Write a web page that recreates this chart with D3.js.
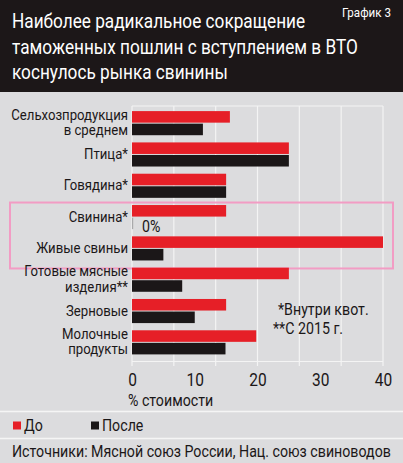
<!DOCTYPE html>
<html>
<head>
<meta charset="utf-8">
<script src="https://cdn.jsdelivr.net/npm/d3@7"></script>
<style>
  html, body { margin: 0; padding: 0; background: #dcdcde; }
  svg { display: block; }
  text { font-family: Roboto, "Noto Sans", sans-serif; fill: #1b1718; }
</style>
</head>
<body>
<div id="canvas"></div>
<script>
// data
var categories = [
    ['Сельхозпродукция', 'в среднем'],
    ['Птица*'],
    ['Говядина*'],
    ['Свинина*'],
    ['Живые свиньи'],
    ['Готовые мясные', 'изделия**'],
    ['Зерновые'],
    ['Молочные', 'продукты']
];
var series = ['До', 'После'];
var before = [15.6, 25, 15, 15, 40, 25, 15, 19.8];
var after = [11.3, 25, 15, 0, 5, 8, 10, 14.9];
var xTicks = [0, 10, 20, 30, 40];
var titleLines = ['Наиболее радикальное сокращение', 'таможенных пошлин с вступлением в ВТО', 'коснулось рынка свинины'];
var notes = ['*Внутри квот.', '**С 2015 г.'];

var W = 403, H = 463;
var K = 0.86; // squeeze text to look like the condensed face
var colors = {'До': '#e61f27', 'После': '#1b1718'};

var svg = d3.select('#canvas').append('svg')
    .attr('width', W).attr('height', H);

function condense(sel){
    sel.each(function(){
        var len = this.getComputedTextLength();
        d3.select(this).attr('textLength', len*K).attr('lengthAdjust', 'spacingAndGlyphs');
    });
}

svg.append('rect').attr('width', W).attr('height', H).attr('fill', '#dcdcde');

// header
svg.append('rect').attr('width', W).attr('height', 92).attr('fill', '#1c1718');
svg.append('g').selectAll('text')
    .data(titleLines).enter().append('text')
    .attr('x', 12)
    .attr('y', function(d, i){ return 28 + i*25.5; })
    .style('font-size', '20px')
    .style('fill', '#fff')
    .text(function(d){ return d; })
    .call(condense);
svg.append('text').attr('x', 342).attr('y', 17)
    .style('font-size', '13.5px').style('fill', '#fff').text('График 3')
    .call(condense);

var names = categories.map(function(d){ return d.join(' '); });

var x = d3.scaleLinear().domain([0, 40]).range([132, 383]);
var y = d3.scaleBand().domain(names).range([107.5, 358])
    .paddingInner(0.23).paddingOuter(0.115);
var ys = d3.scaleBand().domain(series).range([0, y.bandwidth()]).paddingInner(0.08);

// grid (white frame + 6 divisions)
var grid = svg.append('g').attr('class', 'grid');
grid.selectAll('line.v')
    .data(d3.range(0, 40.001, 40/6)).enter().append('line')
    .attr('x1', function(d){ return x(d); }).attr('x2', function(d){ return x(d); })
    .attr('y1', 106).attr('y2', 366)
    .attr('stroke', '#f4f4f4').attr('stroke-width', 1.2);
grid.selectAll('line.h')
    .data([106, 361.5]).enter().append('line')
    .attr('x1', x(0)).attr('x2', x(40))
    .attr('y1', function(d){ return d; }).attr('y2', function(d){ return d; })
    .attr('stroke', '#f4f4f4').attr('stroke-width', 1.2);

// highlight frame around pork
svg.append('rect')
    .attr('x', 10).attr('y', y(names[3]) - 2.5)
    .attr('width', 383).attr('height', y(names[4]) + y.bandwidth() + 8 - (y(names[3]) - 2.5))
    .attr('fill', 'none').attr('stroke', '#f29cc4').attr('stroke-width', 2);

// bars
var rows = names.map(function(n, i){
    return {name: n, vals: [{s: 'До', v: before[i]}, {s: 'После', v: after[i]}]};
});
var groups = svg.selectAll('.group')
    .data(rows).enter().append('g').attr('class', 'group')
    .attr('transform', function(d){ return 'translate(0,' + y(d.name) + ')'; });
groups.selectAll('rect')
    .data(function(d){ return d.vals; }).enter().append('rect')
    .attr('x', x(0))
    .attr('y', function(d){ return ys(d.s); })
    .attr('height', ys.bandwidth())
    .attr('width', function(d){ return Math.max(x(d.v) - x(0), 1.2); })
    .attr('fill', function(d){ return d.v === 0 ? '#a9a9ab' : colors[d.s]; });

// zero value label
rows.forEach(function(r){
    r.vals.forEach(function(d){
        if (d.v === 0) {
            svg.append('text').attr('x', x(0) + 10)
                .attr('y', y(r.name) + ys(d.s) + ys.bandwidth() + 3)
                .style('font-size', '16.5px').text('0%').call(condense);
        }
    });
});

// category labels, one text per line
categories.forEach(function(lines, i){
    var c = y(names[i]) + y.bandwidth()/2;
    lines.forEach(function(l, j){
        var base = lines.length === 1 ? c + 4.5 : c - 3.5 + j*15.5;
        svg.append('text').attr('class', 'cat')
            .attr('x', 128).attr('y', base)
            .attr('text-anchor', 'end')
            .style('font-size', '15.3px')
            .text(l).call(condense);
    });
});

// x axis labels
var xAxis = d3.axisBottom(x).tickValues(xTicks).tickSize(0).tickPadding(0);
var ax = svg.append('g').attr('transform', 'translate(0,373)').call(xAxis);
ax.select('.domain').remove();
ax.selectAll('text').style('font-size', '18px')
    .style('font-family', 'Roboto, "Noto Sans", sans-serif')
    .attr('fill', '#1b1718')
    .call(condense);
svg.append('text').attr('x', 128).attr('y', 406).style('font-size', '16.5px').text('% стоимости')
    .call(condense);

// footnotes
svg.selectAll('.note')
    .data(notes).enter().append('text').attr('class', 'note')
    .attr('x', function(d, i){ return i === 0 ? 278 : 273; })
    .attr('y', function(d, i){ return 315 + i*19; })
    .style('font-size', '16.5px')
    .text(function(d){ return d; })
    .call(condense);

// separators
svg.selectAll('.sep')
    .data([411.5, 438.5]).enter().append('line')
    .attr('x1', 0).attr('x2', W)
    .attr('y1', function(d){ return d; }).attr('y2', function(d){ return d; })
    .attr('stroke', '#f5f5f5').attr('stroke-width', 1.5);

// legend
var leg = svg.selectAll('.leg')
    .data(series).enter().append('g').attr('class', 'leg')
    .attr('transform', function(d, i){ return 'translate(' + (13 + i*78) + ',0)'; });
leg.append('rect').attr('x', 0).attr('y', 421.5).attr('width', 8).attr('height', 8)
    .attr('fill', function(d){ return colors[d]; });
leg.append('text').attr('x', 11).attr('y', 431).style('font-size', '16.5px')
    .text(function(d){ return d; })
    .call(condense);

// source
svg.append('text').attr('x', 12).attr('y', 457).style('font-size', '16.5px')
    .text('Источники: Мясной союз России, Нац. союз свиноводов')
    .call(condense);
</script>
</body>
</html>
